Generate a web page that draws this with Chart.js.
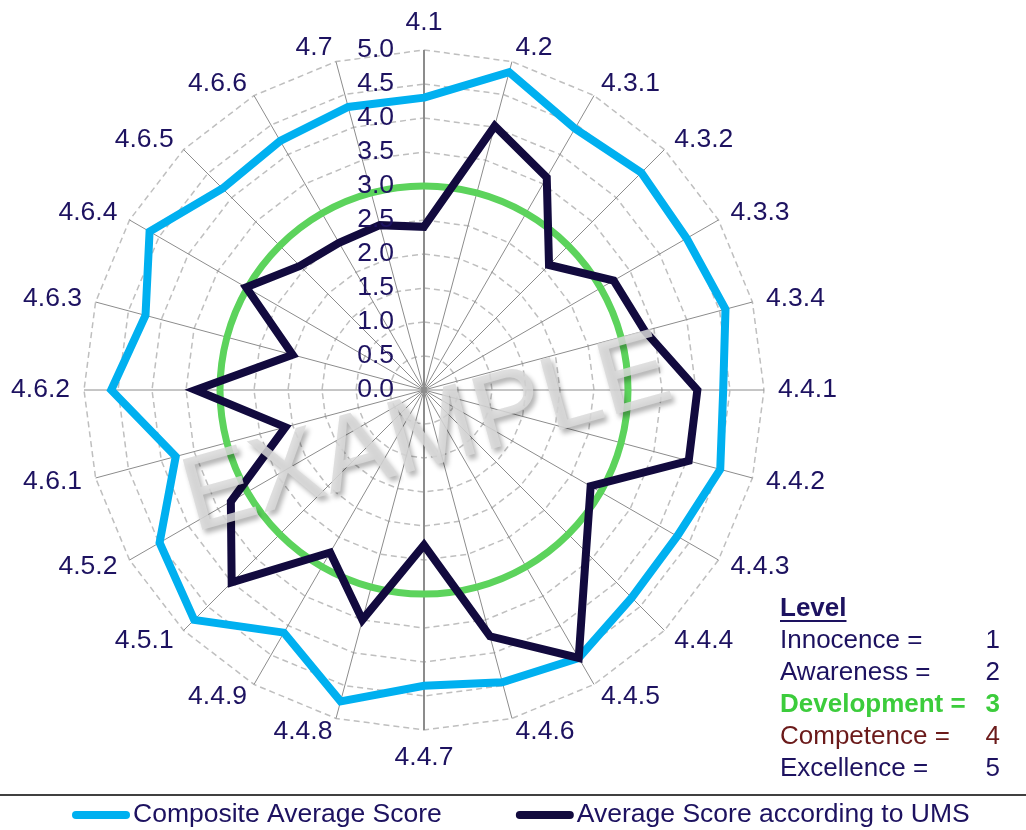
<!DOCTYPE html>
<html>
<head>
<meta charset="utf-8">
<title>Radar</title>
<script src="https://cdn.jsdelivr.net/npm/chart.js@4.4.0/dist/chart.umd.min.js"></script>
<style>
    html, body { margin: 0; padding: 0; background: #ffffff; }
    #chart-box { width: 1026px; height: 830px; }
</style>
</head>
<body>
<div id="chart-box"><canvas id="radar-chart" width="1026" height="830"></canvas></div>
<script>
const categories = ['4.1', '4.2', '4.3.1', '4.3.2', '4.3.3', '4.3.4', '4.4.1', '4.4.2', '4.4.3', '4.4.4', '4.4.5', '4.4.6',
    '4.4.7', '4.4.8', '4.4.9', '4.5.1', '4.5.2', '4.6.1', '4.6.2', '4.6.3', '4.6.4', '4.6.5', '4.6.6', '4.7'];
const compositeScores = [4.3, 4.84, 4.44, 4.52, 4.46, 4.59, 4.4, 4.51, 4.3, 4.32, 4.55, 4.45,
    4.35, 4.74, 4.12, 4.78, 4.49, 3.78, 4.6, 4.24, 4.66, 4.19, 4.23, 4.31];
const umsScores = [2.4, 4.02, 3.61, 2.6, 3.22, 3.36, 4.02, 4.03, 2.83, 3.37, 4.55, 3.75,
    2.28, 3.5, 2.76, 4.0, 3.28, 2.11, 3.36, 2.0, 3.02, 2.58, 2.5, 2.51];
const developmentLine = [3, 3, 3, 3, 3, 3, 3, 3, 3, 3, 3, 3, 3, 3, 3, 3, 3, 3, 3, 3, 3, 3, 3, 3];
const seriesNames = ['Composite Average Score', 'Average Score according to UMS', 'Development'];
const levelNames = ['Innocence', 'Awareness', 'Development', 'Competence', 'Excellence'];
const levelValues = [1, 2, 3, 4, 5];

const radarChartHandler = function () {
    const fontFamily = '"Liberation Sans", Arial, sans-serif';
    const textColor = '#1d1260';
    const levelColors = ['#1d1260', '#1d1260', '#3ccc3c', '#6b1a1a', '#1d1260'];

    this.initialize = function () {
        _this.chart = new Chart('radar-chart', {
            type: 'radar',
            data: {
                labels: categories,
                datasets: [{
                    label: seriesNames[0],
                    data: compositeScores,
                    borderColor: '#00b0f0',
                    borderWidth: 8,
                    order: 2
                }, {
                    label: seriesNames[1],
                    data: umsScores,
                    borderColor: '#120a3e',
                    borderWidth: 8,
                    order: 1
                }, {
                    label: seriesNames[2],
                    data: developmentLine,
                    borderColor: '#5cd35c',
                    borderWidth: 7,
                    tension: 0.34,
                    hideInLegend: true,
                    order: 3
                }]
            },
            options: {
                responsive: false,
                animation: false,
                events: [],
                layout: { padding: { left: 84, top: 50, right: 262, bottom: 100 } },
                elements: {
                    line: { fill: false, borderJoinStyle: 'miter', borderCapStyle: 'round' },
                    point: { radius: 0, hoverRadius: 0 }
                },
                plugins: {
                    legend: { display: false },
                    tooltip: { enabled: false }
                },
                scales: {
                    r: {
                        min: 0,
                        max: 5,
                        ticks: { display: false, stepSize: 0.5 },
                        pointLabels: { display: false },
                        grid: { color: '#bfbfbf', lineWidth: 1.5 },
                        border: { dash: [6, 4] },
                        angleLines: {
                            color: '#8c8c8c',
                            lineWidth: (ctx) => (ctx.index % 12 === 0 ? 2 : 1)
                        }
                    }
                }
            },
            plugins: [excelDecorations]
        });
    };

    drawTickLabels = function (chart) {
        const scale = chart.scales.r;
        const ctx = chart.ctx;
        ctx.save();
        ctx.font = `26.5px ${fontFamily}`;
        ctx.fillStyle = textColor;
        ctx.textAlign = 'right';
        ctx.textBaseline = 'middle';
        scale.ticks.forEach((tick) => {
            const dist = scale.getDistanceFromCenterForValue(tick.value);
            ctx.fillText(tick.value.toFixed(1), scale.xCenter - 30, scale.yCenter - dist);
        });
        ctx.restore();
    };

    drawPointLabels = function (chart) {
        const scale = chart.scales.r;
        const ctx = chart.ctx;
        ctx.save();
        ctx.font = `26.5px ${fontFamily}`;
        ctx.fillStyle = textColor;
        categories.forEach((label, i) => {
            const pos = scale.getPointPosition(i, scale.drawingArea + 14);
            const angle = Math.round(i * 360 / categories.length);
            ctx.textAlign = (angle === 0 || angle === 180) ? 'center' : (angle < 180 ? 'left' : 'right');
            ctx.textBaseline = angle === 0 ? 'bottom' : (angle === 180 ? 'top' : 'middle');
            ctx.fillText(label, pos.x, pos.y);
        });
        ctx.restore();
    };

    drawWatermark = function (chart) {
        const scale = chart.scales.r;
        const ctx = chart.ctx;
        ctx.save();
        ctx.translate(scale.xCenter - 230, scale.yCenter + 142);
        ctx.rotate(-15.6 * Math.PI / 180);
        ctx.font = `106px ${fontFamily}`;
        ctx.globalAlpha = 0.85;
        ctx.shadowColor = 'rgba(0, 0, 0, 0.35)';
        ctx.shadowOffsetX = 3;
        ctx.shadowOffsetY = 4;
        ctx.shadowBlur = 5;
        ctx.fillStyle = '#d9d9d9';
        ctx.textBaseline = 'alphabetic';
        ctx.fillText('EXAMPLE', 0, 0);
        ctx.restore();
    };

    drawLegend = function (chart) {
        const ctx = chart.ctx;
        const y = 815;
        ctx.save();
        // frame line above legend
        ctx.strokeStyle = '#000000';
        ctx.lineWidth = 1.5;
        ctx.beginPath();
        ctx.moveTo(0, 795);
        ctx.lineTo(chart.width, 795);
        ctx.stroke();

        ctx.font = `26.5px ${fontFamily}`;
        ctx.textAlign = 'left';
        ctx.textBaseline = 'middle';
        let x = 72;
        chart.data.datasets.filter(ds => !ds.hideInLegend).forEach((ds) => {
            ctx.strokeStyle = ds.borderColor;
            ctx.lineWidth = 8;
            ctx.lineCap = 'round';
            ctx.beginPath();
            ctx.moveTo(x + 4, y);
            ctx.lineTo(x + 54, y);
            ctx.stroke();
            ctx.fillStyle = textColor;
            ctx.fillText(ds.label, x + 61, y);
            x += 61 + ctx.measureText(ds.label).width + 74;
        });
        ctx.restore();
    };

    drawLevelKey = function (chart) {
        const ctx = chart.ctx;
        const left = 780;
        const right = 1000;
        ctx.save();
        ctx.textBaseline = 'middle';
        ctx.textAlign = 'left';
        ctx.fillStyle = textColor;
        ctx.font = `bold 26px ${fontFamily}`;
        ctx.fillText('Level', left, 609);
        const w = ctx.measureText('Level').width;
        ctx.fillRect(left, 620, w, 2);

        levelNames.forEach((name, k) => {
            const y = 641 + k * 32;
            const bold = name === 'Development';
            ctx.font = `${bold ? 'bold ' : ''}26px ${fontFamily}`;
            ctx.fillStyle = levelColors[k];
            ctx.textAlign = 'left';
            ctx.fillText(`${name} =`, left, y);
            ctx.textAlign = 'right';
            ctx.fillText(String(levelValues[k]), right, y);
        });
        ctx.restore();
    };

    const excelDecorations = {
        id: 'excelDecorations',
        afterDatasetsDraw: (chart) => {
            drawTickLabels(chart);
            drawPointLabels(chart);
            drawWatermark(chart);
        },
        afterDraw: (chart) => {
            drawLegend(chart);
            drawLevelKey(chart);
        }
    };

    const _this = this;
    this.initialize();
};

document.addEventListener('DOMContentLoaded', function () {
    const radarObj = new radarChartHandler();
});
</script>
</body>
</html>
